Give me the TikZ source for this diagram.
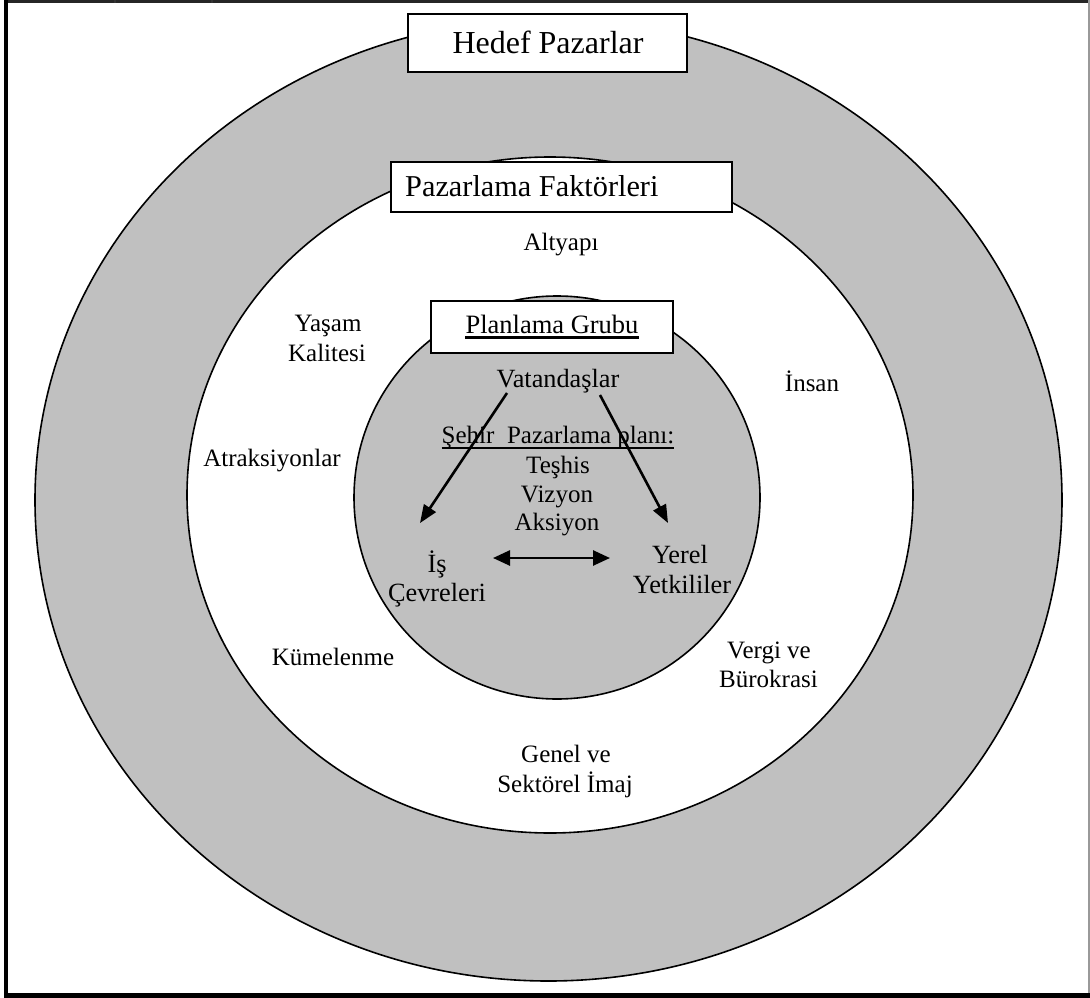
\documentclass[tikz,border=0pt]{standalone}
\usepackage{fontspec}
\setmainfont{Liberation Serif}
\usetikzlibrary{arrows.meta,shapes.geometric}
\definecolor{ringgray}{RGB}{192,192,192}
\begin{document}
\begin{tikzpicture}[x=1pt,y=-1pt,
  ring/.style={draw=black, line width=1.6pt, ellipse, inner sep=0pt},
  box/.style={draw=black, fill=white, line width=1.8pt, inner sep=0pt},
  lbl/.style={inner sep=0pt, anchor=base, font=\fontsize{25}{30}\selectfont},
  biglbl/.style={lbl, font=\fontsize{26.3}{30}\selectfont},
  arr/.style={line width=2.6pt, -{Triangle[length=18pt,width=14pt]}},
  dblarr/.style={line width=2.6pt, {Triangle[length=17pt,width=15pt]}-{Triangle[length=17pt,width=15pt]}},
]
\useasboundingbox (0,0) rectangle (1090,998);

% page frame
\fill[white] (0,0) rectangle (1090,998);
\draw[line width=3pt, black!85] (4,1.5) -- (1090,1.5);
\draw[line width=1.2pt, black!80] (115,0) -- (115,3);
\draw[line width=1.2pt, black!80] (212,0) -- (212,3);
\draw[line width=4pt, black] (6,0) -- (6,998);
\draw[line width=5pt, black] (4,995.5) -- (1090,995.5);
\draw[line width=2pt, black!40] (1089,0) -- (1089,993);

% nested rings
\node[ring, fill=ringgray, minimum width=1027pt, minimum height=962pt] (outer) at (548.5,500) {};
\node[ring, fill=white, minimum width=726pt, minimum height=676pt] (middle) at (550,495) {};
\node[ring, fill=ringgray, minimum width=406pt, minimum height=403pt] (inner) at (557,497.5) {};

% title boxes
\node[box, minimum width=279pt, minimum height=58pt] (hpbox) at (547.5,43) {};
\node[lbl, font=\fontsize{32}{36}\selectfont] (hp) at (548,54) {Hedef Pazarlar};

\node[box, minimum width=341pt, minimum height=50pt] (pfbox) at (561.5,187) {};
\node[lbl, anchor=base west, font=\fontsize{30.3}{34}\selectfont] (pf) at (405,196) {Pazarlama Faktörleri};

\node[box, minimum width=242pt, minimum height=52pt] (pgbox) at (552,327) {};
\node[lbl, font=\fontsize{26.5}{30}\selectfont] (pg) at (552,333) {Planlama Grubu};
\draw[line width=2.8pt] ([yshift=-4.5pt]pg.base west) -- ([yshift=-4.5pt]pg.base east);

% marketing factors (middle ring)
\node[lbl] (altyapi) at (561,250) {Altyapı};
\node[lbl] (yasam1) at (328,331) {Yaşam};
\node[lbl] (yasam2) at (327,361) {Kalitesi};
\node[lbl] (insan) at (812,391) {İnsan};
\node[lbl] (atrak) at (272,466) {Atraksiyonlar};
\node[lbl] (kume) at (333,665) {Kümelenme};
\node[lbl] (vergi1) at (769,658) {Vergi ve};
\node[lbl] (vergi2) at (768.5,687) {Bürokrasi};
\node[lbl] (imaj1) at (566,762) {Genel ve};
\node[lbl] (imaj2) at (565,792) {Sektörel İmaj};

% planning group (inner circle)
\node[biglbl] (vat) at (558,387) {Vatandaşlar};
\node[lbl] (plan) at (558,443) {Şehir\ \ Pazarlama planı:};
\draw[line width=1.8pt] ([yshift=-5pt]plan.base west) -- ([yshift=-5pt]plan.base east);
\node[lbl] (teshis) at (558,473) {Teşhis};
\node[lbl] (vizyon) at (557,502) {Vizyon};
\node[lbl] (aksiyon) at (557,530) {Aksiyon};
\node[biglbl] (is1) at (437,572) {İş};
\node[biglbl] (is2) at (437,601) {Çevreleri};
\node[biglbl] (yerel1) at (680,563) {Yerel};
\node[biglbl] (yerel2) at (682,593) {Yetkililer};

% arrows between the actors
\coordinate (vatL) at (507,393);
\coordinate (vatR) at (600,395);
\coordinate (isTop) at (420,523);
\coordinate (yerelTop) at (668,523);
\coordinate (isSide) at (493,558);
\coordinate (yerelSide) at (610,558);
\draw[arr] (vatL) -- (isTop);
\draw[arr] (vatR) -- (yerelTop);
\draw[dblarr] (isSide) -- (yerelSide);
\end{tikzpicture}
\end{document}
